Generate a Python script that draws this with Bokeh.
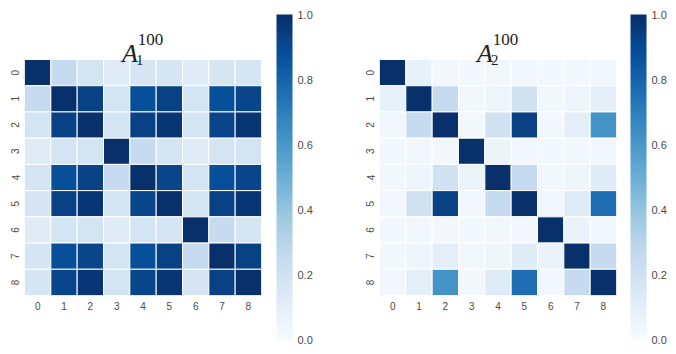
import numpy as np
from bokeh.plotting import figure
from bokeh.models import (ColumnDataSource, LinearColorMapper, ColorBar, FixedTicker,
                          PrintfTickFormatter, Range1d)
from bokeh.core.properties import value
from bokeh.transform import transform
from bokeh.palettes import Blues256
from bokeh.layouts import row
from bokeh.embed import file_html
from bokeh.resources import INLINE

labels = [str(i) for i in range(9)]
ticks = list(range(9))
cbar_ticks = [0.0, 0.2, 0.4, 0.6, 0.8, 1.0]

A1 = [
    [1.00, 0.25, 0.18, 0.12, 0.17, 0.17, 0.12, 0.17, 0.17],
    [0.25, 1.00, 0.93, 0.18, 0.88, 0.93, 0.18, 0.88, 0.92],
    [0.18, 0.93, 1.00, 0.18, 0.93, 0.98, 0.18, 0.92, 0.98],
    [0.12, 0.18, 0.18, 1.00, 0.25, 0.18, 0.12, 0.18, 0.18],
    [0.17, 0.88, 0.93, 0.25, 1.00, 0.92, 0.18, 0.88, 0.92],
    [0.17, 0.93, 0.98, 0.18, 0.92, 1.00, 0.18, 0.93, 0.98],
    [0.12, 0.18, 0.18, 0.12, 0.18, 0.17, 1.00, 0.25, 0.17],
    [0.17, 0.88, 0.92, 0.18, 0.88, 0.93, 0.25, 1.00, 0.93],
    [0.17, 0.92, 0.98, 0.18, 0.92, 0.98, 0.17, 0.93, 1.00],
]

A2 = [
    [1.00, 0.08, 0.03, 0.02, 0.03, 0.03, 0.02, 0.03, 0.03],
    [0.08, 1.00, 0.25, 0.03, 0.05, 0.20, 0.03, 0.05, 0.10],
    [0.03, 0.25, 1.00, 0.02, 0.20, 0.93, 0.02, 0.10, 0.62],
    [0.02, 0.03, 0.03, 1.00, 0.06, 0.03, 0.02, 0.03, 0.03],
    [0.03, 0.05, 0.20, 0.06, 1.00, 0.25, 0.03, 0.05, 0.12],
    [0.03, 0.20, 0.93, 0.03, 0.25, 1.00, 0.03, 0.12, 0.76],
    [0.02, 0.03, 0.03, 0.02, 0.03, 0.03, 1.00, 0.07, 0.03],
    [0.03, 0.05, 0.10, 0.03, 0.05, 0.12, 0.07, 1.00, 0.25],
    [0.03, 0.10, 0.62, 0.03, 0.12, 0.76, 0.03, 0.25, 1.00],
]

TXT = "#4a4a4a"
palette = list(reversed(Blues256))

H = 354
TOP = 14          # frame top (covers title area)
BOTTOM = 59       # frame bottom border
CELL_PX = 236 / 9.0


def make_panel(mat, sub, width, border_left, border_right, cb_x):
    m = np.array(mat)
    n = m.shape[0]
    xs, ys, vs = [], [], []
    for i in range(n):
        for j in range(n):
            xs.append(j)
            ys.append(i)
            vs.append(m[i, j])
    src = ColumnDataSource(dict(x=xs, y=ys, v=vs))
    mapper = LinearColorMapper(palette=palette, low=0.0, high=1.0)

    frame_h = H - TOP - BOTTOM
    span = frame_h / CELL_PX
    p = figure(width=width, height=H, output_backend="svg", toolbar_location=None,
               x_range=Range1d(-0.5, n - 0.5), y_range=Range1d(n - 0.5, n - 0.5 - span),
               min_border_left=border_left, min_border_right=border_right,
               min_border_top=TOP, min_border_bottom=BOTTOM)
    p.rect(x="x", y="y", width=1, height=1, source=src,
           fill_color=transform("v", mapper), line_color="white", line_width=1)

    p.outline_line_color = None
    p.grid.visible = False
    p.background_fill_color = "white"
    p.border_fill_color = "white"
    for ax in (p.xaxis[0], p.yaxis[0]):
        ax.ticker = FixedTicker(ticks=ticks)
        ax.major_label_overrides = {t: l for t, l in zip(ticks, labels)}
        ax.axis_line_color = None
        ax.major_tick_line_color = None
        ax.minor_tick_line_color = None
        ax.major_tick_out = 0
        ax.major_tick_in = 0
        ax.major_label_text_font = "Liberation Sans"
        ax.major_label_text_font_size = "10px"
        ax.major_label_text_color = TXT
    p.xaxis.major_label_standoff = 6
    p.yaxis.major_label_standoff = 5
    p.yaxis.major_label_orientation = "vertical"

    cb = ColorBar(color_mapper=mapper, location=(cb_x, -44), width=16, height=325,
                  padding=0, ticker=FixedTicker(ticks=cbar_ticks),
                  formatter=PrintfTickFormatter(format="%.1f"),
                  major_tick_line_color=None, minor_tick_line_color=None,
                  bar_line_color=None, border_line_color=None,
                  background_fill_alpha=0, label_standoff=5,
                  major_label_text_font="Liberation Sans",
                  major_label_text_font_size="11px",
                  major_label_text_color=TXT)
    p.add_layout(cb)

    # title  A_sub^100
    cx = (n - 1) / 2.0
    p.text(x=[cx - 0.80], y=[-0.74], text=["A"], text_font=value("Liberation Serif"),
           text_font_style="italic", text_font_size="26px",
           text_color="#222222", text_baseline="alphabetic", text_align="left")
    p.text(x=[cx - 0.27], y=[-0.50], text=[sub], text_font=value("Liberation Serif"),
           text_font_size="15px", text_color="#222222",
           text_baseline="alphabetic", text_align="left")
    p.text(x=[cx - 0.20], y=[-1.25], text=["100"], text_font=value("Liberation Serif"),
           text_font_size="17px", text_color="#222222",
           text_baseline="alphabetic", text_align="left")
    return p


p1 = make_panel(A1, "1", 340, 24, 79, 252)
p2 = make_panel(A2, "2", 336, 39, 60, 251)
layout = row(p1, p2)

open("out.html", "w").write(file_html(layout, INLINE))
